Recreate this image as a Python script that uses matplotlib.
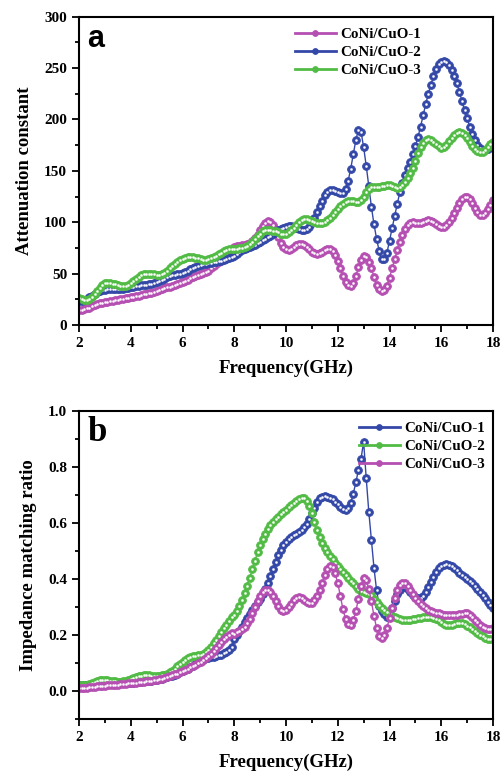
import matplotlib
matplotlib.use("Agg")
import matplotlib.pyplot as plt
from matplotlib.ticker import MultipleLocator
import numpy as np

# frequency grid, 2-18 GHz, 0.1 GHz step (161 points)
freq = np.round(np.arange(2.0, 18.0001, 0.1), 1)

# (a) attenuation constant
atten_1 = [15, 15, 16, 17, 17, 18, 19, 20, 21, 21,
           22, 22, 23, 23, 24, 24, 25, 25, 26, 26,
           27, 27, 28, 28, 29, 30, 30, 31, 31, 32,
           33, 34, 35, 36, 37, 37, 38, 39, 40, 41,
           42, 43, 44, 46, 47, 48, 49, 50, 51, 52,
           53, 55, 57, 59, 61, 63, 66, 69, 72, 74,
           76, 77, 77, 78, 78, 79, 80, 82, 85, 88,
           92, 96, 99, 101, 100, 97, 92, 86, 80, 76,
           74, 73, 74, 76, 78, 79, 79, 78, 76, 74,
           71, 70, 69, 70, 71, 73, 74, 74, 72, 68,
           62, 55, 48, 42, 39, 38, 41, 48, 56, 63,
           67, 66, 61, 55, 47, 39, 35, 33, 34, 38,
           46, 55, 64, 73, 81, 88, 93, 97, 99, 100,
           99, 99, 99, 100, 101, 102, 101, 100, 98, 96,
           95, 95, 97, 100, 104, 109, 114, 119, 123, 125,
           125, 123, 119, 114, 110, 107, 107, 109, 113, 117,
           122]
atten_2 = [23, 23, 24, 25, 27, 28, 30, 32, 33, 34,
           34, 35, 35, 35, 35, 35, 35, 35, 36, 36,
           37, 37, 38, 38, 39, 39, 39, 40, 40, 41,
           42, 43, 44, 45, 47, 48, 49, 49, 50, 50,
           51, 52, 53, 54, 55, 56, 57, 58, 59, 59,
           60, 60, 61, 61, 62, 62, 63, 64, 65, 66,
           67, 69, 71, 73, 74, 75, 76, 77, 78, 80,
           81, 83, 84, 86, 87, 89, 90, 92, 93, 94,
           95, 96, 96, 95, 94, 93, 92, 92, 93, 95,
           99, 104, 110, 116, 121, 126, 129, 131, 131, 130,
           129, 128, 128, 132, 140, 152, 166, 180, 190, 188,
           173, 155, 135, 115, 98, 84, 72, 64, 64, 70,
           82, 94, 106, 118, 129, 138, 146, 153, 159, 166,
           174, 183, 193, 204, 215, 225, 234, 242, 249, 254,
           256, 257, 256, 253, 248, 242, 235, 227, 218, 209,
           201, 193, 186, 180, 175, 172, 170, 170, 171, 173,
           175]
atten_3 = [26, 25, 24, 24, 25, 27, 30, 33, 36, 39,
           41, 41, 41, 40, 40, 39, 38, 38, 38, 39,
           41, 43, 45, 47, 49, 50, 50, 50, 50, 50,
           49, 49, 50, 51, 53, 55, 57, 59, 61, 63,
           64, 65, 66, 66, 66, 65, 65, 64, 63, 63,
           64, 65, 66, 67, 69, 70, 72, 73, 74, 74,
           74, 74, 75, 75, 76, 77, 79, 81, 84, 87,
           89, 91, 92, 92, 92, 91, 91, 90, 89, 89,
           89, 90, 92, 94, 97, 100, 102, 103, 103, 102,
           101, 100, 99, 99, 99, 100, 102, 104, 107, 110,
           113, 116, 118, 120, 121, 121, 121, 120, 120, 122,
           125, 129, 132, 134, 134, 134, 134, 135, 135, 136,
           136, 135, 134, 133, 134, 136, 139, 143, 148, 153,
           160, 167, 173, 177, 180, 181, 180, 178, 176, 174,
           172, 173, 175, 179, 182, 185, 187, 188, 187, 185,
           182, 178, 174, 171, 169, 168, 168, 170, 173, 176,
           178]

# (b) impedance matching ratio
imp_1 = [.022, .022, .021, .021, .021, .021, .022, .022, .023, .024,
         .024, .025, .025, .026, .026, .027, .027, .028, .028, .029,
         .030, .030, .031, .032, .033, .034, .035, .036, .037, .038,
         .040, .042, .044, .046, .049, .052, .055, .058, .062, .066,
         .070, .074, .079, .084, .090, .096, .102, .107, .112, .116,
         .119, .121, .123, .125, .127, .130, .134, .140, .148, .158,
         .185, .200, .215, .230, .245, .260, .275, .290, .305, .318,
         .330, .345, .365, .385, .410, .435, .460, .485, .505, .520,
         .532, .542, .550, .556, .562, .568, .575, .585, .598, .615,
         .635, .655, .675, .688, .693, .695, .694, .690, .684, .676,
         .667, .658, .650, .646, .652, .672, .705, .745, .790, .830,
         .890, .760, .640, .540, .440, .360, .305, .285, .275, .265,
         .275, .295, .320, .345, .362, .372, .372, .365, .352, .342,
         .336, .333, .333, .340, .352, .370, .390, .408, .425, .438,
         .446, .450, .452, .450, .445, .440, .432, .423, .415, .408,
         .400, .393, .385, .376, .366, .355, .343, .331, .319, .307,
         .297]
imp_2 = [.020, .020, .021, .022, .024, .027, .031, .035, .038, .040,
         .040, .039, .037, .035, .034, .033, .033, .034, .036, .039,
         .042, .046, .049, .052, .054, .056, .056, .056, .055, .055,
         .055, .055, .056, .058, .062, .067, .073, .080, .088, .096,
         .104, .111, .117, .121, .124, .126, .127, .129, .133, .139,
         .148, .158, .170, .183, .196, .210, .224, .237, .250, .263,
         .270, .285, .305, .325, .350, .375, .405, .435, .465, .495,
         .520, .542, .562, .578, .592, .603, .613, .622, .631, .640,
         .648, .657, .665, .673, .680, .686, .690, .688, .678, .660,
         .635, .605, .575, .550, .530, .512, .497, .483, .470, .458,
         .447, .436, .425, .414, .404, .394, .385, .376, .366, .356,
         .352, .350, .348, .342, .330, .318, .306, .296, .288, .281,
         .275, .269, .264, .260, .257, .255, .254, .254, .255, .256,
         .258, .260, .262, .263, .264, .264, .263, .261, .258, .255,
         .245, .240, .237, .236, .237, .239, .241, .242, .241, .238,
         .233, .227, .220, .213, .206, .200, .195, .190, .187, .185,
         .184]
imp_3 = [.010, .010, .011, .012, .013, .014, .015, .016, .017, .018,
         .019, .020, .020, .021, .022, .023, .024, .025, .026, .027,
         .028, .029, .030, .031, .032, .033, .034, .035, .036, .038,
         .040, .042, .044, .047, .050, .053, .056, .059, .062, .066,
         .070, .074, .079, .084, .089, .094, .099, .105, .111, .118,
         .125, .133, .142, .152, .163, .174, .185, .194, .201, .206,
         .205, .210, .215, .222, .230, .242, .258, .278, .300, .320,
         .338, .352, .360, .362, .355, .340, .322, .303, .290, .285,
         .290, .300, .312, .324, .332, .334, .332, .326, .319, .314,
         .316, .325, .340, .360, .385, .413, .437, .448, .442, .420,
         .385, .340, .292, .258, .240, .237, .252, .285, .330, .375,
         .405, .395, .365, .320, .268, .225, .198, .190, .200, .225,
         .260, .298, .332, .360, .378, .386, .385, .375, .360, .345,
         .332, .320, .310, .302, .296, .291, .287, .283, .280, .277,
         .275, .273, .271, .270, .270, .271, .272, .274, .276, .277,
         .277, .273, .265, .255, .245, .236, .229, .224, .221, .221,
         .224]

labels = ["CoNi/CuO-1", "CoNi/CuO-2", "CoNi/CuO-3"]

MAGENTA = "#b54fb2"
BLUE = "#3448a8"
GREEN = "#52bb45"

serif = ["Liberation Serif", "DejaVu Serif"]
plt.rcParams["font.family"] = serif
plt.rcParams["font.weight"] = "bold"


def draw(ax, series, colors, names):
    for y, c, name in zip(series, colors, names):
        ax.plot(freq, y, color=c, lw=1.0, marker="o", ms=5.6,
                mec=c, mfc=c, mew=0.6, label=name)
        # small white highlight in each marker
        ax.plot(freq, y, ls="none", marker="o", ms=1.5, mfc="white",
                mec="white", mew=0.3)


def style(ax, ylabel, anchor):
    ax.set_xlim(2, 18)
    ax.xaxis.set_major_locator(MultipleLocator(2))
    ax.xaxis.set_minor_locator(MultipleLocator(1))
    for s in ax.spines.values():
        s.set_linewidth(1.5)
    ax.tick_params(which="both", direction="out", top=False, right=False,
                   width=1.3, labelsize=11)
    ax.tick_params(which="major", length=5)
    ax.tick_params(which="minor", length=3)
    for t in ax.get_xticklabels() + ax.get_yticklabels():
        t.set_fontweight("bold")
    ax.set_xlabel("Frequency(GHz)", fontsize=13.5, fontweight="bold", labelpad=7)
    ax.set_ylabel(ylabel, fontsize=13.5, fontweight="bold", labelpad=8)
    leg = ax.legend(loc="upper right", bbox_to_anchor=anchor, frameon=False,
                    fontsize=10.8, handlelength=2.7, handletextpad=0.3,
                    labelspacing=0.3, borderaxespad=0.0, markerscale=0.75)
    for line in leg.get_lines():
        line.set_linewidth(2.0)
    return leg


fig = plt.figure(figsize=(5, 7.73), dpi=100)
ax1 = fig.add_axes([0.158, 0.5796, 0.828, 0.3988])
ax2 = fig.add_axes([0.158, 0.0699, 0.828, 0.3984])

# panel a
draw(ax1, [atten_1, atten_2, atten_3], [MAGENTA, BLUE, GREEN], labels)
ax1.set_ylim(0, 300)
ax1.yaxis.set_major_locator(MultipleLocator(50))
ax1.yaxis.set_minor_locator(MultipleLocator(25))
style(ax1, "Attenuation constant", (0.84, 0.985))
ax1.text(0.02, 0.975, "a", transform=ax1.transAxes, fontsize=22,
         fontweight="bold", family=["Liberation Sans", "DejaVu Sans"], va="top")

# panel b
draw(ax2, [imp_1, imp_2, imp_3], [BLUE, GREEN, MAGENTA], labels)
ax2.set_ylim(-0.1, 1.0)
ax2.yaxis.set_major_locator(MultipleLocator(0.2))
ax2.yaxis.set_minor_locator(MultipleLocator(0.1))
ax2.set_yticks([0.0, 0.2, 0.4, 0.6, 0.8, 1.0])
ax2.set_yticklabels(["0.0", "0.2", "0.4", "0.6", "0.8", "1.0"])
style(ax2, "Impedance matching ratio", (0.995, 0.985))
ax2.text(0.02, 0.985, "b", transform=ax2.transAxes, fontsize=25,
         fontweight="bold", va="top")

fig.savefig("out.png", dpi=100)
